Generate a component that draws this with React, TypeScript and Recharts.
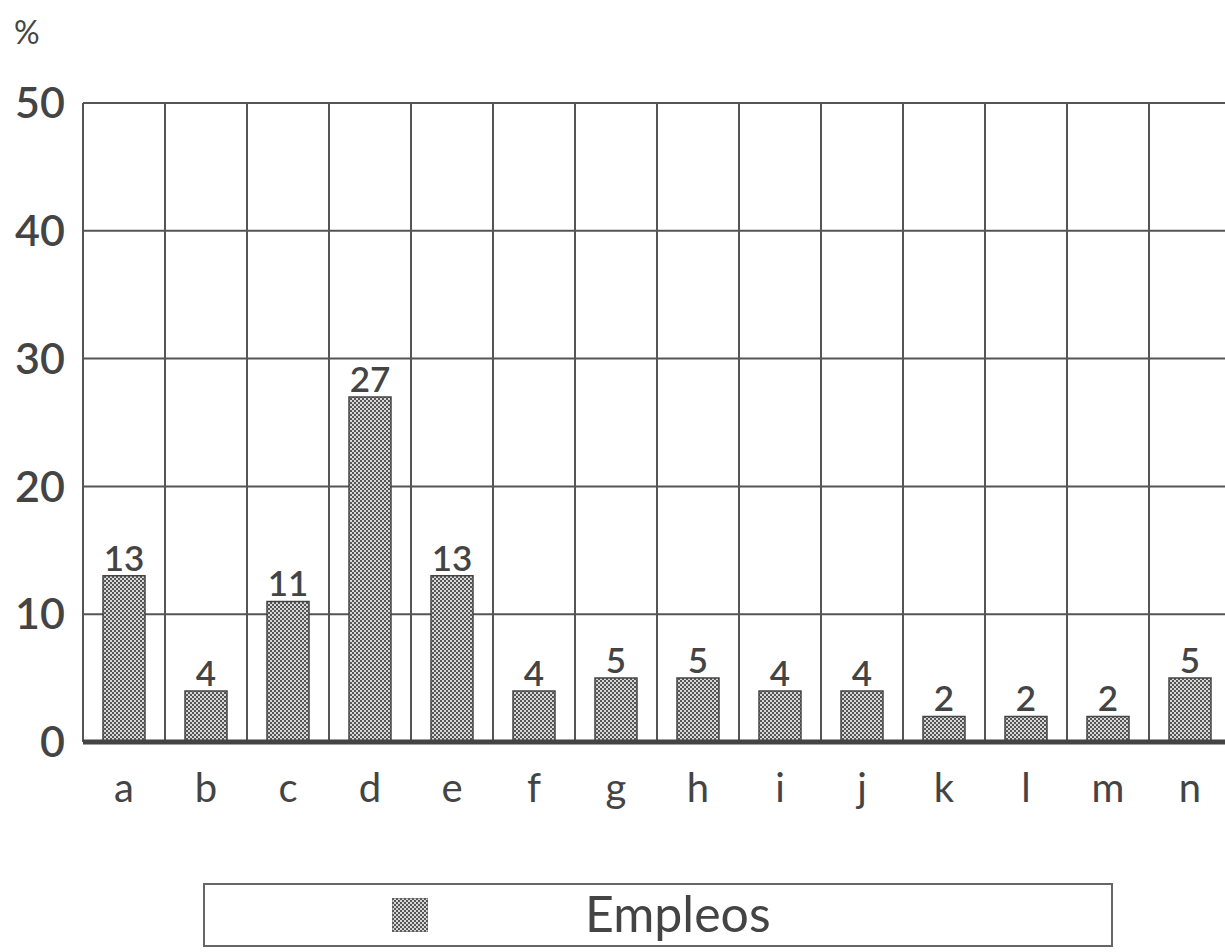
import { Bar, BarChart, CartesianGrid, LabelList, Legend, ReferenceLine, XAxis, YAxis } from "recharts";

const categories = ["a", "b", "c", "d", "e", "f", "g", "h", "i", "j", "k", "l", "m", "n"];
const empleos = [13, 4, 11, 27, 13, 4, 5, 5, 4, 4, 2, 2, 2, 5];
const yTicks = [0, 10, 20, 30, 40, 50];

const data = categories.map((cat, i) => ({ cat, empleos: empleos[i] }));

const INK = "#444";
const FONT = "Lato, 'DejaVu Sans', sans-serif";

// band boundaries instead of band centres for the vertical grid
const bandLines = ({ offset }: any) => {
	const out: number[] = [];
	for (let i = 0; i <= categories.length; i++) {
		out.push(offset.left + (offset.width * i) / categories.length);
	}
	return out;
};

const LegendBox = () => (
	<div
		style={{
			width: 910,
			height: 64,
			border: "2px solid #666",
			boxSizing: "border-box",
			position: "relative",
			background: "#fff",
		}}
	>
		<svg width={36} height={34} style={{ position: "absolute", left: 187, top: 13 }}>
			<rect width={36} height={34} fill="url(#checker)" stroke="#666" strokeWidth={1} />
		</svg>
		<span
			style={{
				position: "absolute",
				left: 380,
				top: -4,
				fontFamily: FONT,
				fontSize: 50,
				lineHeight: "64px",
				color: INK,
			}}
		>
			Empleos
		</span>
	</div>
);

export default function App() {
	return (
		<div
			style={{
				position: "absolute",
				left: 0,
				top: 0,
				width: 1225,
				height: 952,
				overflow: "hidden",
				background: "#fff",
			}}
		>
			<div
				style={{
					position: "absolute",
					left: 14,
					top: 12,
					fontFamily: FONT,
					fontSize: 32,
					color: INK,
				}}
			>
				%
			</div>
			<BarChart
				width={1240}
				height={952}
				data={data}
				margin={{ top: 103, right: 9, left: 0, bottom: 66 }}
				barCategoryGap={20}
			>
				<defs>
					<pattern id="checker" width={4} height={4} patternUnits="userSpaceOnUse">
						<rect width={4} height={4} fill="#d8d8d8" />
						<rect width={2} height={2} fill="#555" />
						<rect x={2} y={2} width={2} height={2} fill="#555" />
					</pattern>
				</defs>
				<CartesianGrid
					stroke="#555"
					strokeWidth={2}
					verticalCoordinatesGenerator={bandLines}
				/>
				<XAxis
					dataKey="cat"
					axisLine={false}
					tickLine={false}
					height={80}
					tick={{ fill: INK, fontSize: 40, fontFamily: FONT, dy: 24 }}
				/>
				<YAxis
					domain={[0, 50]}
					ticks={yTicks}
					width={83}
					axisLine={false}
					tickLine={false}
					tick={{ fill: INK, fontSize: 43, fontFamily: FONT, fontWeight: 600, dx: -10 }}
				/>
				<Bar
					dataKey="empleos"
					fill="url(#checker)"
					stroke="#444"
					strokeWidth={1.5}
					isAnimationActive={false}
				>
					<LabelList
						dataKey="empleos"
						position="top"
						offset={5}
						style={{ fill: INK, fontSize: 35, fontFamily: FONT, fontWeight: 600 }}
					/>
				</Bar>
				<ReferenceLine y={0} stroke="#444" strokeWidth={5} />
				<Legend
					verticalAlign="bottom"
					content={() => <LegendBox />}
					wrapperStyle={{ left: 203, top: 883, width: 910 }}
				/>
			</BarChart>
		</div>
	);
}
